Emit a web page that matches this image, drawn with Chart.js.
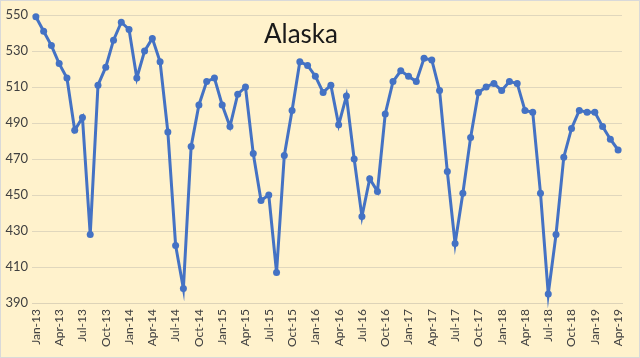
<!DOCTYPE html>
<html>
<head>
<meta charset="utf-8">
<script src="https://cdn.jsdelivr.net/npm/chart.js@4"></script>
<style>
html,body{margin:0;padding:0;background:#FFF2CC;}
#wrap{width:640px;height:358px;position:relative;}
</style>
</head>
<body>
<div id="wrap"><canvas id="c" width="640" height="358"></canvas></div>
<script>
const chartTitle = "Alaska";
const months = [
 "Jan-13","Feb-13","Mar-13","Apr-13","May-13","Jun-13","Jul-13","Aug-13","Sep-13","Oct-13","Nov-13","Dec-13",
 "Jan-14","Feb-14","Mar-14","Apr-14","May-14","Jun-14","Jul-14","Aug-14","Sep-14","Oct-14","Nov-14","Dec-14",
 "Jan-15","Feb-15","Mar-15","Apr-15","May-15","Jun-15","Jul-15","Aug-15","Sep-15","Oct-15","Nov-15","Dec-15",
 "Jan-16","Feb-16","Mar-16","Apr-16","May-16","Jun-16","Jul-16","Aug-16","Sep-16","Oct-16","Nov-16","Dec-16",
 "Jan-17","Feb-17","Mar-17","Apr-17","May-17","Jun-17","Jul-17","Aug-17","Sep-17","Oct-17","Nov-17","Dec-17",
 "Jan-18","Feb-18","Mar-18","Apr-18","May-18","Jun-18","Jul-18","Aug-18","Sep-18","Oct-18","Nov-18","Dec-18",
 "Jan-19","Feb-19","Mar-19","Apr-19"
];
const production = [
 549,541,533,523,515,486,493,428,511,521,536,546,
 542,515,530,537,524,485,422,398,477,500,513,515,
 500,488,506,510,473,447,450,407,472,497,524,522,
 516,507,511,489,505,470,438,459,452,495,513,519,
 516,513,526,525,508,463,423,451,482,507,510,512,
 508,513,512,497,496,451,395,428,471,487,497,496,
 496,488,481,475
];
const yTicks = [390,410,430,450,470,490,510,530,550];

const bgPlugin = {
  id:'bg',
  beforeDraw(chart){
    const ctx = chart.ctx;
    ctx.save();
    ctx.fillStyle = '#FFF2CC';
    ctx.fillRect(0,0,chart.width,chart.height);
    ctx.restore();
  },
  afterDraw(chart){
    const ctx = chart.ctx;
    ctx.save();
    ctx.strokeStyle = '#D9D9D9';
    ctx.lineWidth = 1;
    ctx.strokeRect(0.5,0.5,chart.width-1,chart.height-1);
    ctx.fillStyle = '#1a1a1a';
    ctx.font = '26px Lato, "Open Sans", sans-serif';
    ctx.textAlign = 'center';
    ctx.textBaseline = 'middle';
    ctx.fillText(chartTitle, 301, 35);
    ctx.restore();
  }
};

new Chart(document.getElementById('c'), {
  type:'line',
  data:{
    labels: months,
    datasets:[{
      data: production,
      borderColor:'#4472C4',
      backgroundColor:'#4472C4',
      borderWidth:3,
      pointRadius:3.5,
      pointHoverRadius:3.5,
      pointBackgroundColor:'#4472C4',
      pointBorderWidth:0,
      tension:0,
      fill:false,
      clip:false
    }]
  },
  options:{
    responsive:false,
    animation:false,
    layout:{padding:{top:15,right:18,bottom:0,left:0}},
    plugins:{legend:{display:false},tooltip:{enabled:false},title:{display:false}},
    scales:{
      x:{
        type:'category',
        offset:true,
        grid:{display:false,drawTicks:false},
        border:{display:true,color:'#DDD3B8',width:1},
        ticks:{
          autoSkip:false,
          minRotation:90,maxRotation:90,
          padding:6,
          color:'#404040',
          font:{family:'Lato, "Open Sans", sans-serif',size:12},
          callback:function(v,i){ return i%3===0 ? months[i] : ''; }
        },
        afterFit(s){ s.height = 55; }
      },
      y:{
        min:390,max:550,
        afterBuildTicks(s){ s.ticks = yTicks.map(v=>({value:v})); },
        grid:{color:'#E0D7BD',lineWidth:1,drawTicks:false},
        border:{display:false},
        ticks:{
          padding:4,
          color:'#404040',
          font:{family:'Lato, "Open Sans", sans-serif',size:13}
        },
        afterFit(s){ s.width = 32; }
      }
    }
  },
  plugins:[bgPlugin]
});
</script>
</body>
</html>
